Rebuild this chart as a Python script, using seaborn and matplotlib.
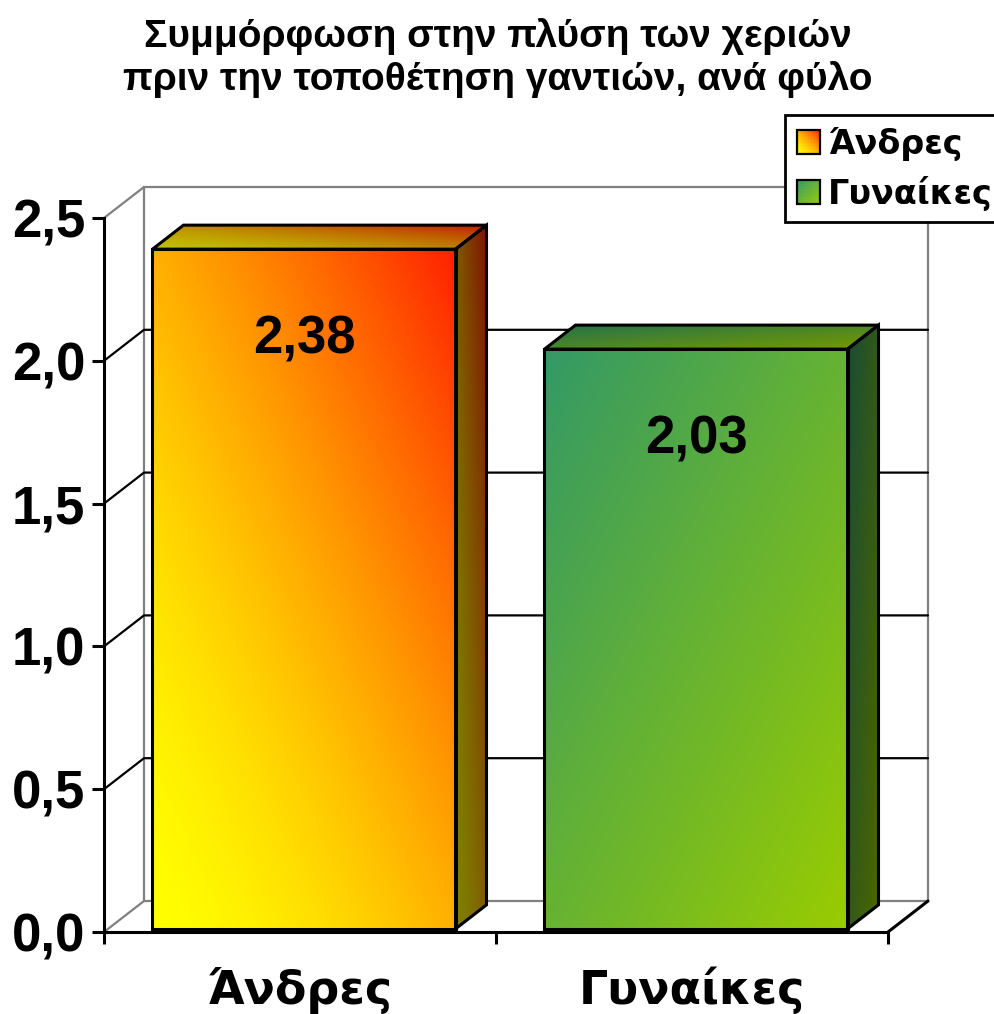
import numpy as np
import matplotlib
matplotlib.use("Agg")
import matplotlib.pyplot as plt
from matplotlib.patches import Polygon, Rectangle
from matplotlib.legend_handler import HandlerBase
import seaborn as sns
import pandas as pd

# ---- data ----
categories = ["Άνδρες", "Γυναίκες"]
values = [2.38, 2.03]
value_labels = ["2,38", "2,03"]
y_ticks = [0.0, 0.5, 1.0, 1.5, 2.0, 2.5]
y_tick_labels = ["0,0", "0,5", "1,0", "1,5", "2,0", "2,5"]
title_lines = ["Συμμόρφωση στην πλύση των χεριών",
               "πριν την τοποθέτηση γαντιών, ανά φύλο"]

# ---- styling ----
grad_start = [(255, 255, 0), (51, 153, 102)]
grad_end = [(255, 32, 0), (153, 204, 0)]
mid_colors = ["#FF9000", "#66B233"]


def t_rising(u, v):   # bottom-left -> top-right, yellow held longer
    return np.power((u + v) / 2.0, 1.5)


def t_falling(u, v):  # top-left -> bottom-right
    return (u + (1.0 - v)) / 2.0


grad_fun = [t_rising, t_falling]

sns.set_theme(style="white")
plt.rcParams["font.family"] = ["Liberation Sans", "DejaVu Sans"]
plt.rcParams["text.color"] = "black"
plt.rcParams["xtick.color"] = "black"
plt.rcParams["ytick.color"] = "black"
plt.rcParams["axes.labelcolor"] = "black"

W, H = 995, 1014
fig = plt.figure(figsize=(W / 100, H / 100), dpi=100)
AX_L, AX_B, AX_W, AX_H = 104, 932, 784, 714
ax = fig.add_axes([AX_L / W, (H - AX_B) / H, AX_W / W, AX_H / H])

df = pd.DataFrame({"sex": categories, "score": values})
sns.barplot(data=df, x="sex", y="score", hue="sex", palette=mid_colors,
            width=0.773, ax=ax, legend=False, edgecolor="black",
            linewidth=2.2, saturation=1)

XMIN, XMAX, YMIN, YMAX = -0.5, 1.5, 0.0, 2.5
px_x = AX_W / (XMAX - XMIN)
px_y = AX_H / (YMAX - YMIN)
# depth of the 3-D box (40 px right, 31 px up)
DX, DY = 40 / px_x, 31 / px_y
BAR_FRONT, BAR_BACK = 0.1, 0.875
LW = 2.2


def shade_face(origin, eu, ev, c0, c1, tfun, scale, zorder, outline=True):
    origin = np.asarray(origin, float)
    eu = np.asarray(eu, float)
    ev = np.asarray(ev, float)
    pts = np.array([origin, origin + eu, origin + eu + ev, origin + ev])
    xmin, ymin = pts.min(0)
    xmax, ymax = pts.max(0)
    xs = np.linspace(xmin, xmax, 300)
    ys = np.linspace(ymin, ymax, 300)
    X, Y = np.meshgrid(xs, ys)
    inv = np.linalg.inv(np.array([eu, ev]).T)
    d = np.stack([X - origin[0], Y - origin[1]], axis=-1)
    uv = d @ inv.T
    u = np.clip(uv[..., 0], 0, 1)
    v = np.clip(uv[..., 1], 0, 1)
    t = tfun(u, v)[..., None]
    a = np.array(c0) / 255.0
    b = np.array(c1) / 255.0
    img = np.clip((a + (b - a) * t) * scale, 0, 1)
    im = ax.imshow(img, extent=(xmin, xmax, ymin, ymax), origin="lower",
                   aspect="auto", interpolation="bilinear", zorder=zorder)
    poly = Polygon(pts, closed=True, facecolor="none",
                   edgecolor="black" if outline else "none", linewidth=LW,
                   zorder=zorder + 0.5, clip_on=False, joinstyle="miter")
    ax.add_patch(poly)
    im.set_clip_path(poly)
    return poly


# ---- box walls ----
gray = "#808080"
bx0, bx1 = XMIN + DX, XMAX + DX
for v in (YMIN, YMAX):
    ax.plot([XMIN, bx0], [v, v + DY], color=gray, lw=1.6, clip_on=False, zorder=1)
ax.plot([bx0, bx1, bx1, bx0, bx0], [DY, DY, YMAX + DY, YMAX + DY, DY],
        color=gray, lw=1.6, clip_on=False, zorder=1, solid_joinstyle="miter")
for v in y_ticks[1:-1]:
    ax.plot([XMIN, bx0, bx1], [v, v + DY, v + DY], color="black", lw=1.6,
            clip_on=False, zorder=1)
ax.plot([XMAX, XMAX + DX], [0, DY], color="black", lw=LW, clip_on=False, zorder=1)

# ---- bars with gradient faces ----
bars = ax.patches[:len(values)]
for i, p in enumerate(bars):
    fx, fy = BAR_FRONT * DX, BAR_FRONT * DY
    p.set_x(p.get_x() + fx)
    p.set_y(p.get_y() + fy)
    x0, y0, w, h = p.get_x(), p.get_y(), p.get_width(), p.get_height()
    bdx, bdy = (BAR_BACK - BAR_FRONT) * DX, (BAR_BACK - BAR_FRONT) * DY
    # front face: image clipped to the seaborn bar
    p.set_facecolor("none")
    p.set_zorder(4)
    shade_face((x0, y0), (w, 0), (0, h), grad_start[i], grad_end[i],
               grad_fun[i], 1.0, 3, outline=False)
    # right side face
    shade_face((x0 + w, y0), (bdx, bdy), (0, h), grad_start[i], grad_end[i],
               grad_fun[i], 0.5, 3)
    # top face
    shade_face((x0, y0 + h), (w, 0), (bdx, bdy), grad_start[i], grad_end[i],
               grad_fun[i], 0.75, 3)
    ax.annotate(value_labels[i], xy=(x0 + w / 2, y0 + h), xytext=(0, -65),
                textcoords="offset points", ha="center", va="center",
                fontsize=38, fontweight="bold", color="black", zorder=10)

# ---- axes ----
ax.set_xlim(XMIN, XMAX)
ax.set_ylim(YMIN, YMAX)
ax.set_facecolor("none")
for s in ("top", "right"):
    ax.spines[s].set_visible(False)
for s in ("left", "bottom"):
    ax.spines[s].set_color("black")
    ax.spines[s].set_linewidth(LW)
    ax.spines[s].set_zorder(5)
ax.set_yticks(y_ticks, y_tick_labels)
ax.set_xticks(range(len(categories)), categories)
ax.set_xticks([-0.5, 0.5, 1.5], minor=True)
ax.set_xlabel("")
ax.set_ylabel("")
ax.tick_params(axis="y", left=True, direction="out", length=8.6, width=LW,
               color="black", pad=5, labelcolor="black")
ax.tick_params(axis="x", which="minor", bottom=True, direction="out",
               length=8.6, width=LW, color="black")
ax.tick_params(axis="x", which="major", bottom=True, length=0, pad=25,
               labelcolor="black")
for lab in ax.get_yticklabels():
    lab.set_fontsize(38)
    lab.set_fontweight("bold")
    lab.set_fontfamily(["Liberation Sans", "DejaVu Sans"])
for lab in ax.get_xticklabels():
    lab.set_fontsize(33)
    lab.set_fontweight("bold")
    lab.set_fontfamily(["DejaVu Sans"])

# ---- title ----
fig.text(0.5, 1 - 58 / H, "\n".join(title_lines), ha="center", va="center",
         fontsize=28, fontweight="bold", linespacing=1.22, color="black")


# ---- legend with gradient swatches ----
class GradientSwatch(HandlerBase):
    def __init__(self, c0, c1, tfun, n=16):
        super().__init__()
        self.c0 = np.array(c0) / 255.0
        self.c1 = np.array(c1) / 255.0
        self.tfun = tfun
        self.n = n

    def create_artists(self, legend, orig_handle, xdescent, ydescent,
                       width, height, fontsize, trans):
        s = height
        x0 = -xdescent + (width - s) / 2
        y0 = -ydescent
        n = self.n
        arts = []
        for i in range(n):
            for j in range(n):
                t = self.tfun((i + 0.5) / n, (j + 0.5) / n)
                col = self.c0 + (self.c1 - self.c0) * t
                arts.append(Rectangle((x0 + i * s / n, y0 + j * s / n),
                                      s / n, s / n, facecolor=col,
                                      edgecolor=col, linewidth=0.4,
                                      transform=trans))
        arts.append(Rectangle((x0, y0), s, s, facecolor="none",
                              edgecolor="black", linewidth=1.6,
                              transform=trans))
        return arts


handler_map = {bars[i]: GradientSwatch(grad_start[i], grad_end[i], grad_fun[i])
               for i in range(len(bars))}
leg = fig.legend(bars, categories, handler_map=handler_map, loc="upper left",
                 bbox_to_anchor=(785 / W, 1 - 115 / H),
                 bbox_transform=fig.transFigure, borderaxespad=0,
                 fancybox=False, framealpha=1, handlelength=0.7,
                 handleheight=0.7, handletextpad=0.25, borderpad=0.35,
                 labelspacing=0.45, prop={"family": "DejaVu Sans",
                                          "weight": "bold", "size": 24})
leg.get_frame().set_edgecolor("black")
leg.get_frame().set_linewidth(2)

fig.savefig("out.png", dpi=100)
